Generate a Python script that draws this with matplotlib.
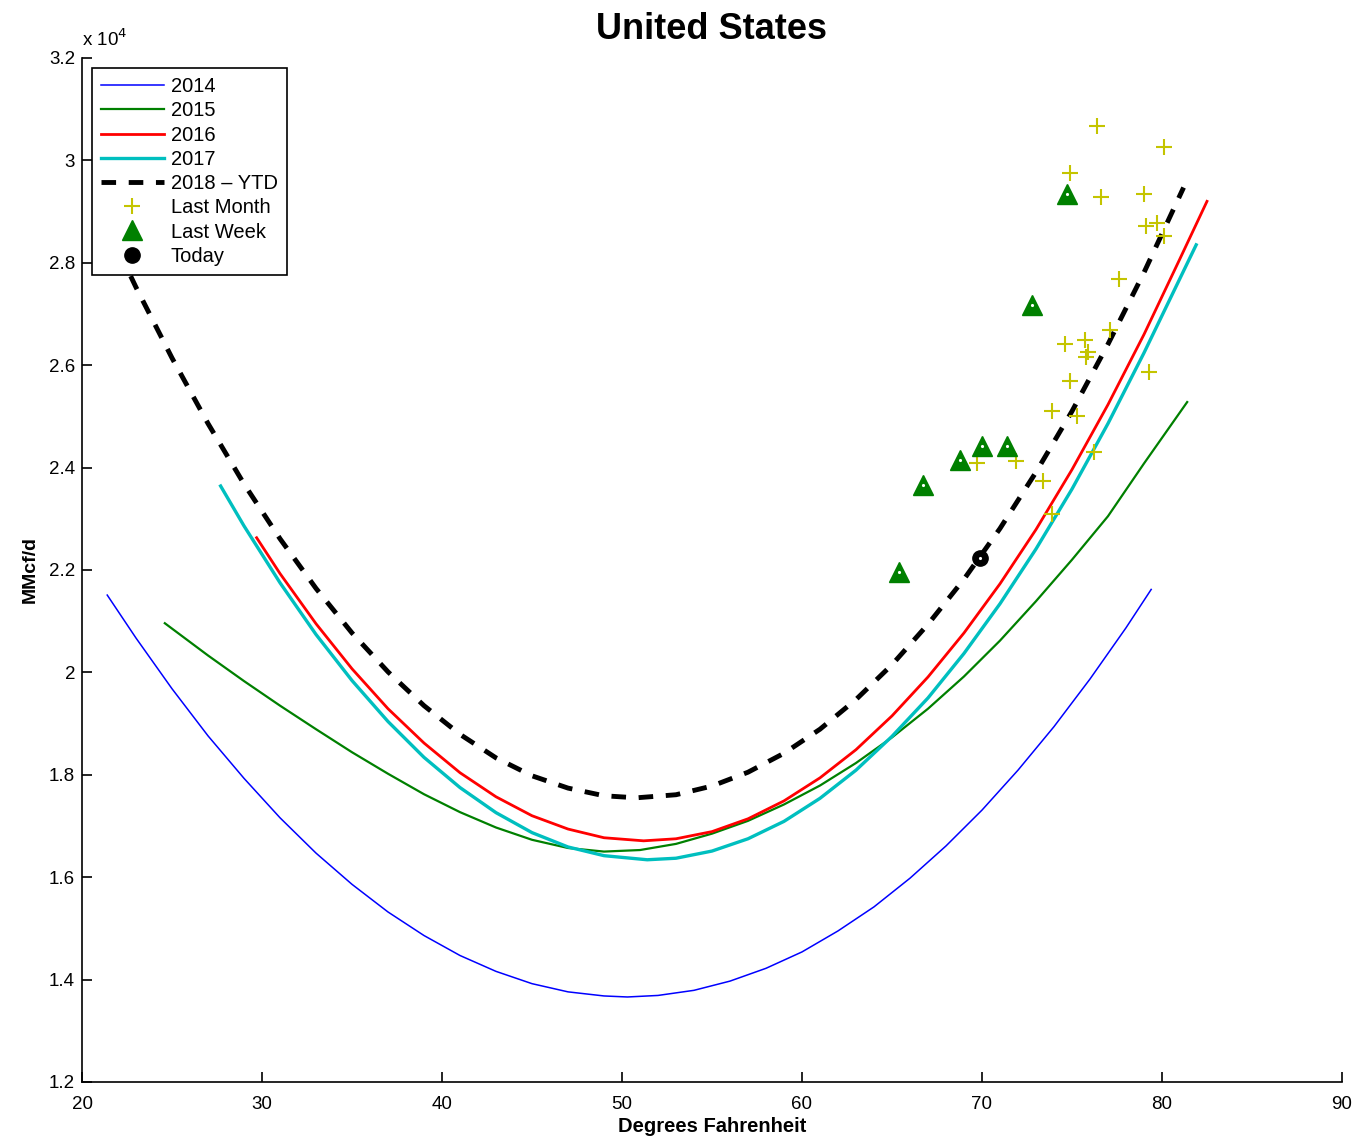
import matplotlib
matplotlib.use("Agg")
import matplotlib.pyplot as plt
from matplotlib.ticker import FuncFormatter, MultipleLocator

plt.rcParams['font.family'] = ['Liberation Sans', 'DejaVu Sans']

# courbes de consommation (degres F -> MMcf/d)
t2014 = [21.4, 23, 25, 27, 29, 31, 33, 35, 37, 39, 41, 43, 45, 47, 49, 50.3, 52, 54, 56, 58, 60,
         62, 64, 66, 68, 70, 72, 74, 76, 78, 79.4]
v2014 = [21510, 20670, 19680, 18760, 17930, 17160, 16470, 15860, 15320, 14860, 14470, 14160, 13920,
         13760, 13680, 13660, 13690, 13790, 13970, 14220, 14540, 14950, 15420, 15980, 16610, 17310,
         18090, 18940, 19870, 20870, 21620]

t2015 = [24.6, 27, 29, 31, 33, 35, 37, 39, 41, 43, 45, 47, 49, 51, 53, 55, 57, 59, 61, 63, 65, 67,
         69, 71, 73, 75, 77, 79, 81.4]
v2015 = [20960, 20330, 19830, 19350, 18890, 18440, 18020, 17620, 17270, 16970, 16730, 16570, 16500,
         16530, 16650, 16850, 17100, 17420, 17790, 18230, 18730, 19290, 19920, 20620, 21390, 22200,
         23050, 24080, 25280]

t2016 = [29.7, 31, 33, 35, 37, 39, 41, 43, 45, 47, 49, 51.2, 53, 55, 57, 59, 61, 63, 65, 67, 69,
         71, 73, 75, 77, 79, 81, 82.5]
v2016 = [22630, 21930, 20950, 20070, 19290, 18620, 18040, 17570, 17200, 16940, 16770, 16710, 16750,
         16890, 17140, 17490, 17940, 18490, 19150, 19910, 20770, 21730, 22790, 23960, 25230, 26600,
         28080, 29200]

t2017 = [27.7, 29, 31, 33, 35, 37, 39, 41, 43, 45, 47, 49, 51.4, 53, 55, 57, 59, 61, 63, 65, 67,
         69, 71, 73, 75, 77, 79, 81.9]
v2017 = [23640, 22860, 21750, 20740, 19840, 19040, 18340, 17750, 17260, 16870, 16590, 16420, 16340,
         16370, 16510, 16750, 17090, 17540, 18090, 18750, 19500, 20370, 21340, 22410, 23580, 24860,
         26240, 28350]

t2018 = [21.4, 23, 25, 27, 29, 31, 33, 35, 37, 39, 41, 43, 45, 47, 49, 50.8, 53, 55, 57, 59, 61,
         63, 65, 67, 69, 71, 73, 75, 77, 79, 81.2]
v2018 = [28700, 27520, 26140, 24860, 23680, 22610, 21640, 20770, 20010, 19350, 18790, 18330, 17980,
         17740, 17590, 17550, 17610, 17780, 18050, 18420, 18890, 19470, 20150, 20940, 21820, 22810,
         23910, 25100, 26410, 27810, 29470]

# points du dernier mois
t_mois = [76.4, 80.1, 74.9, 76.6, 79.0, 79.1, 79.7, 80.1, 77.6, 77.1, 75.7, 74.6, 75.8, 75.9, 74.9,
          79.3, 73.9, 75.3, 76.2, 69.7, 71.9, 73.4, 73.9]
v_mois = [30670, 30260, 29750, 29290, 29340, 28720, 28780, 28520, 27680, 26690, 26490, 26410, 26160,
          26260, 25690, 25870, 25110, 25010, 24300, 24090, 24130, 23740, 23090]

# points de la derniere semaine
t_semaine = [74.7, 72.8, 71.4, 70.0, 68.8, 66.7, 65.4]
v_semaine = [29340, 27180, 24420, 24420, 24150, 23660, 21960]

# aujourd'hui
t_jour = [69.9]
v_jour = [22230]

fig = plt.figure(figsize=(13.58, 11.37), dpi=100)
ax = fig.add_axes([0.0604, 0.0484, 0.9278, 0.9006])

ax.plot(t2014, v2014, color='blue', lw=1.1, label='2014')
ax.plot(t2015, v2015, color='#008000', lw=1.6, label='2015')
ax.plot(t2016, v2016, color='red', lw=2.0, label='2016')
ax.plot(t2017, v2017, color='#00bfbf', lw=2.4, label='2017')
ax.plot(t2018, v2018, color='black', lw=3.5, ls=(0, (3, 2.6)), label='2018 \u2013 YTD')
ax.plot(t_mois, v_mois, ls='none', marker='+', ms=11, mew=1.5, color='#c4c400', label='Last Month')
ax.plot(t_semaine, v_semaine, ls='none', marker='^', ms=15, color='#008000', label='Last Week')
ax.plot(t_jour, v_jour, ls='none', marker='o', ms=11, color='black', label='Today')
# petit point blanc au centre des marqueurs (comme matlab)
ax.plot(t_semaine + t_jour, v_semaine + v_jour, ls='none', marker='.', ms=2.5, color='white')

ax.set_xlim(20, 90)
ax.set_ylim(12000, 32000)
ax.xaxis.set_major_locator(MultipleLocator(10))
ax.yaxis.set_major_locator(MultipleLocator(2000))
ax.yaxis.set_major_formatter(FuncFormatter(lambda v, p: '{:g}'.format(round(v / 1e4, 2))))

for s in ['top', 'right']:
    ax.spines[s].set_visible(False)
for s in ['left', 'bottom']:
    ax.spines[s].set_linewidth(1.2)
ax.tick_params(direction='in', length=7, width=1.2, labelsize=13.5)
ax.tick_params(axis='x', pad=10)
ax.tick_params(axis='y', pad=5)

ax.text(0.0, 1.008, 'x 10$^{4}$', transform=ax.transAxes, fontsize=13.5, ha='left', va='bottom')

ax.set_title('United States', fontsize=26, fontweight='bold', pad=14)
ax.set_xlabel('Degrees Fahrenheit', fontsize=14.5, fontweight='bold', labelpad=3)
ax.set_ylabel('MMcf/d', fontsize=14, fontweight='bold', labelpad=7)

leg = ax.legend(loc='upper left', fontsize=14.5, numpoints=1, handlelength=3.1,
                handletextpad=0.35, labelspacing=0.26, borderpad=0.45,
                borderaxespad=0.5, fancybox=False, framealpha=1, edgecolor='black')
leg.get_frame().set_linewidth(1.2)

fig.savefig('out.png', dpi=100)
